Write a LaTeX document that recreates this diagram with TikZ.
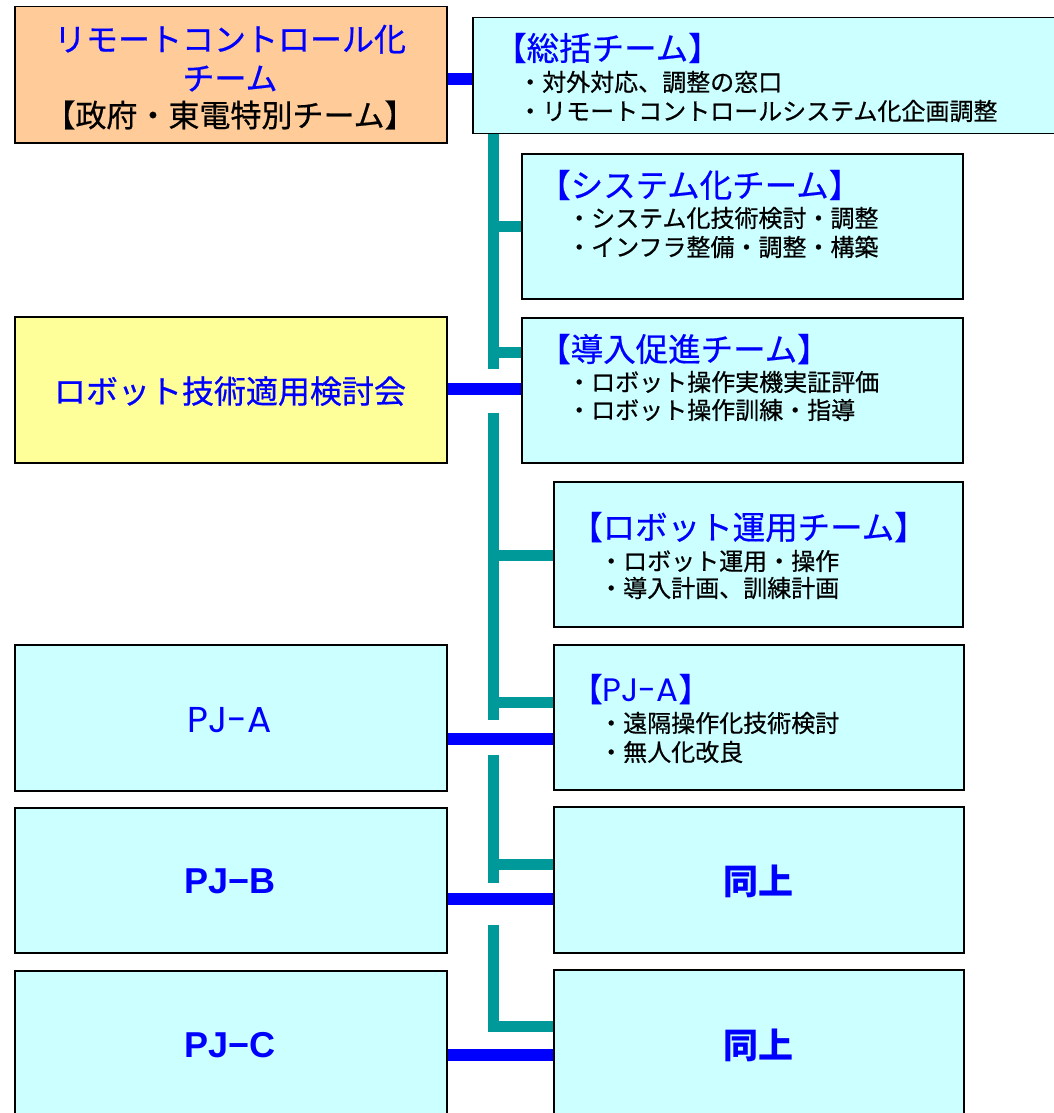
\documentclass[tikz,border=0pt]{standalone}
\usepackage{fontspec}
\newfontfamily\jp{Noto Sans CJK JP}[FakeBold=0.6]
\newfontfamily\jpbold{Noto Sans CJK JP}
\newfontfamily\pjfont{Poppins}
\newfontfamily\arialb{Liberation Sans}
\definecolor{cyanfill}{HTML}{CCFFFF}
\definecolor{orangefill}{HTML}{FFCC99}
\definecolor{yellowfill}{HTML}{FFFF99}
\definecolor{pureblue}{HTML}{0000FF}
\definecolor{tealc}{HTML}{009999}
\begin{document}
\begin{tikzpicture}[x=1pt,y=-1pt,
  box/.style={draw=black, line width=1.5pt, rectangle, anchor=north west, inner sep=0pt},
  bline/.style={draw=pureblue, line width=12pt},
  tline/.style={draw=tealc, line width=11pt},
  ttl/.style={font=\jp\fontsize{32.5}{38}\selectfont, text=pureblue, inner sep=0pt, anchor=west, text height=28.6pt, text depth=3.9pt},
  bul/.style={font=\jp\fontsize{24}{28}\selectfont, text=black, inner sep=0pt, anchor=west, text height=21.1pt, text depth=2.9pt},
  big/.style={font=\jp\fontsize{32}{38}\selectfont, text=pureblue, inner sep=0pt, anchor=center, text height=28.2pt, text depth=3.8pt},
]
\useasboundingbox (0,0) rectangle (1054,1113);
\fill[white] (0,0) rectangle (1054,1113);

% boxes
\node[box, fill=orangefill, minimum width=432pt, minimum height=136pt] (org) at (14,6) {};
\node[box, fill=cyanfill, minimum width=590pt, minimum height=116pt] (sokatsu) at (472,17) {};
\node[box, fill=cyanfill, minimum width=441pt, minimum height=145pt] (sys) at (521,153) {};
\node[box, fill=cyanfill, minimum width=441pt, minimum height=145pt] (intro) at (521,317) {};
\node[box, fill=cyanfill, minimum width=409pt, minimum height=145pt] (robo) at (553,481) {};
\node[box, fill=cyanfill, minimum width=410pt, minimum height=145pt] (pjaR) at (553,644) {};
\node[box, fill=cyanfill, minimum width=410pt, minimum height=146pt] (same1) at (553,806) {};
\node[box, fill=cyanfill, minimum width=410pt, minimum height=160pt] (same2) at (553,969) {};
\node[box, fill=yellowfill, minimum width=432pt, minimum height=146pt] (yel) at (14,316) {};
\node[box, fill=cyanfill, minimum width=432pt, minimum height=146pt] (pjaL) at (14,644) {};
\node[box, fill=cyanfill, minimum width=432pt, minimum height=145pt] (pjbL) at (14,807) {};
\node[box, fill=cyanfill, minimum width=432pt, minimum height=160pt] (pjcL) at (14,970) {};

% helper coordinates
\coordinate (tx) at (493,0);
\coordinate (y0) at (0,79);
\coordinate (y1) at (0,389);
\coordinate (y2) at (0,739);
\coordinate (y3) at (0,899);
\coordinate (y4) at (0,1055);
\coordinate (b2) at (0,352);
\coordinate (b3) at (0,555);
\coordinate (b4) at (0,702);
\coordinate (b5) at (0,864);
\coordinate (v1e) at (493,369);
\coordinate (v2s) at (493,413);
\coordinate (v2e) at (493,720);
\coordinate (v3s) at (493,755);
\coordinate (v3e) at (493,883);
\coordinate (v4s) at (493,925);
\coordinate (v4e) at (493,1026);

% teal connectors
\draw[tline] (tx |- sokatsu.south) -- (v1e);
\draw[tline] (tx |- sys.west) -- (sys.west);
\draw[tline] (tx |- b2) -- (intro.west |- b2);
\draw[tline] (v2s) -- (v2e);
\draw[tline] (tx |- b3) -- (robo.west |- b3);
\draw[tline] (tx |- b4) -- (pjaR.west |- b4);
\draw[tline] (v3s) -- (v3e);
\draw[tline] (tx |- b5) -- (same1.west |- b5);
\draw[tline] (v4s) -- (v4e) -- (same2.west |- v4e);

% blue connectors
\draw[bline] (org.east |- y0) -- (sokatsu.west |- y0);
\draw[bline] (yel.east |- y1) -- (intro.west |- y1);
\draw[bline] (pjaL.east |- y2) -- (pjaR.west |- y2);
\draw[bline] (pjbL.east |- y3) -- (same1.west |- y3);
\draw[bline] (pjcL.east |- y4) -- (same2.west |- y4);

% left texts
\node[big] (o1) at (230,39) {リモートコントロール化};
\node[big] (o2) at (230,78) {チーム};
\node[big, text=black, font=\jp\fontsize{31}{36}\selectfont, text height=27.3pt, text depth=3.7pt] (o3) at (230,115) {【政府・東電特別チーム】};
\node[big] (yt) at (230,391) {ロボット技術適用検討会};
\node[big, font=\pjfont\fontsize{36}{40}\selectfont, text height=25pt, text depth=0pt] (pjat) at (230,720) {PJ-A};
\node[big, font=\arialb\bfseries\fontsize{36}{40}\selectfont, text height=26pt, text depth=0pt] (pjbt) at (230,880) {PJ−B};
\node[big, font=\arialb\bfseries\fontsize{36}{40}\selectfont, text height=26pt, text depth=0pt] (pjct) at (230,1044) {PJ−C};

% right texts
\node[ttl] (s0) at (494,48) {【総括チーム】};
\node[bul] (s1) at (518,82) {・対外対応、調整の窓口};
\node[bul] (s2) at (518,111) {・リモートコントロールシステム化企画調整};

\node[ttl] (y0t) at (538,185) {【システム化チーム】};
\node[bul] (y1t) at (567,218) {・システム化技術検討・調整};
\node[bul] (y2t) at (567,247) {・インフラ整備・調整・構築};

\node[ttl] (i0) at (538,349) {【導入促進チーム】};
\node[bul] (i1) at (567,382) {・ロボット操作実機実証評価};
\node[bul] (i2) at (567,410) {・ロボット操作訓練・指導};

\node[ttl] (r0) at (570,527) {【ロボット運用チーム】};
\node[bul] (r1) at (599,561) {・ロボット運用・操作};
\node[bul] (r2) at (599,588) {・導入計画、訓練計画};

\node[ttl] (p0) at (570,689) {【{\pjfont PJ-A}】};
\node[bul] (p1) at (599,723) {・遠隔操作化技術検討};
\node[bul] (p2) at (599,752) {・無人化改良};

\node[big, font=\jpbold\bfseries\fontsize{35}{40}\selectfont, text height=30.8pt, text depth=4.2pt] (d1) at (758,881) {同上};
\node[big, font=\jpbold\bfseries\fontsize{35}{40}\selectfont, text height=30.8pt, text depth=4.2pt] (d2) at (758,1045) {同上};
\end{tikzpicture}
\end{document}
